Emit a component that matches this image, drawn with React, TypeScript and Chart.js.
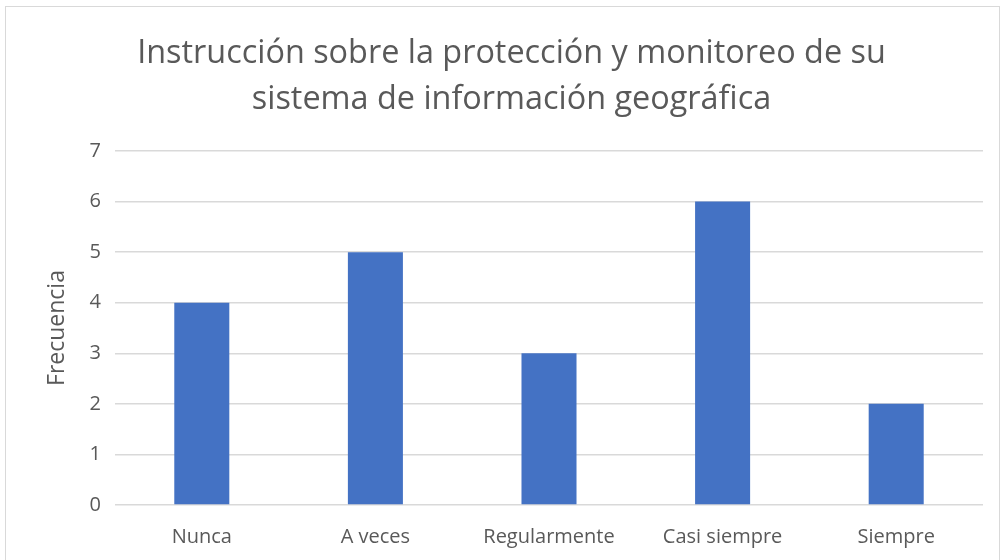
import React, { useEffect, useRef } from "react";
import { Chart, registerables } from "chart.js";

Chart.register(...registerables);

const categories = ["Nunca", "A veces", "Regularmente", "Casi siempre", "Siempre"];
const frecuencia = [4, 5, 3, 6, 2];
const titleLines = ["Instrucción sobre la protección y monitoreo de su", "sistema de información geográfica"];
const yAxisTitle = "Frecuencia";

const FONT = "'Open Sans', 'Noto Sans', sans-serif";
const TEXT = "#595959";

export default function App() {
  const ref = useRef<HTMLCanvasElement | null>(null);
  useEffect(() => {
    document.body.style.margin = "0";
    const ctx = ref.current!;
    const chart = new Chart(ctx, {
      type: "bar",
      data: {
        labels: categories,
        datasets: [
          {
            label: yAxisTitle,
            data: frecuencia,
            backgroundColor: "#4472C4",
            borderWidth: 0,
            barPercentage: 0.317,
            categoryPercentage: 1,
          },
        ],
      },
      options: {
        responsive: false,
        animation: false,
        layout: { padding: { left: 40, right: 20, top: 0, bottom: 0 } },
        plugins: {
          legend: { display: false },
          tooltip: { enabled: false },
          title: {
            display: true,
            text: titleLines,
            color: TEXT,
            font: { family: FONT, size: 32.4, weight: "normal", lineHeight: 1.42 },
            padding: { top: 31, bottom: 28 },
          },
        },
        scales: {
          x: {
            grid: { display: false },
            border: { display: false },
            ticks: { color: TEXT, font: { family: FONT, size: 20 }, padding: 12 },
            afterFit: (s: any) => {
              s.height = 55;
            },
          },
          y: {
            min: 0,
            max: 7,
            ticks: { stepSize: 1, color: TEXT, font: { family: FONT, size: 20 }, padding: 14 },
            grid: { color: "#D9D9D9", lineWidth: 1.5, drawTicks: false },
            border: { display: false },
            title: {
              display: true,
              text: yAxisTitle,
              color: TEXT,
              font: { family: FONT, size: 23 },
              padding: { top: 4, bottom: 4 },
            },
            afterFit: (s: any) => {
              s.width = 75;
            },
          },
        },
      },
    });
    return () => chart.destroy();
  }, []);
  return (
    <div style={{ position: "relative", width: 1003, height: 560, background: "#fff", overflow: "hidden" }}>
      <div
        style={{
          position: "absolute",
          left: 5,
          top: 6,
          width: 995,
          height: 600,
          border: "1.5px solid #D9D9D9",
          boxSizing: "border-box",
        }}
      />
      <canvas ref={ref} width={1003} height={560} style={{ position: "absolute", left: 0, top: 0 }} />
    </div>
  );
}
